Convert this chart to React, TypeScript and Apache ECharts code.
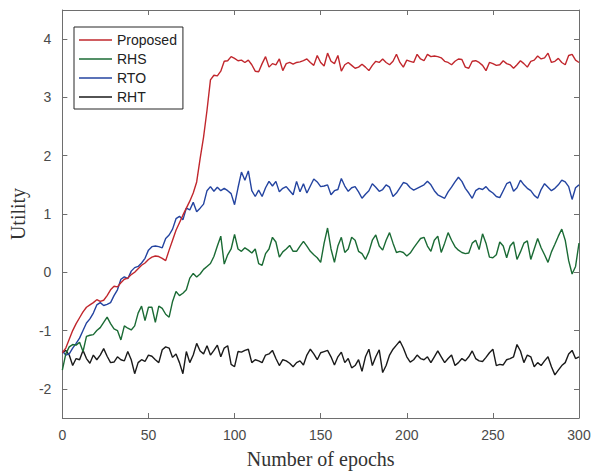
import React, { useEffect, useRef } from "react";
import * as echarts from "echarts";

const epochs: number[] = Array.from({ length: 151 }, (_, i) => i * 2);

const proposed: number[] = [
  -1.38, -1.30, -1.15, -1.00, -0.88, -0.78, -0.68, -0.60, -0.56, -0.52,
  -0.47, -0.50, -0.48, -0.40, -0.30, -0.24, -0.25, -0.18, -0.12, -0.10,
  -0.04, 0.00, 0.06, 0.12, 0.16, 0.22, 0.26, 0.28, 0.27, 0.24,
  0.20, 0.38, 0.55, 0.72, 0.85, 0.98, 1.10, 1.22, 1.36, 1.55,
  1.95, 2.32, 2.78, 3.30, 3.38, 3.37, 3.45, 3.62, 3.63, 3.70,
  3.67, 3.63, 3.64, 3.60, 3.64, 3.56, 3.45, 3.44, 3.58, 3.70,
  3.52, 3.58, 3.56, 3.66, 3.46, 3.58, 3.60, 3.57, 3.60, 3.61,
  3.63, 3.66, 3.60, 3.55, 3.72, 3.60, 3.54, 3.76, 3.62, 3.58,
  3.72, 3.45, 3.56, 3.60, 3.55, 3.50, 3.52, 3.57, 3.52, 3.46,
  3.55, 3.62, 3.60, 3.66, 3.60, 3.56, 3.62, 3.74, 3.60, 3.52,
  3.64, 3.62, 3.60, 3.74, 3.66, 3.63, 3.74, 3.70, 3.71, 3.70,
  3.68, 3.62, 3.60, 3.56, 3.62, 3.66, 3.65, 3.52, 3.50, 3.62,
  3.63, 3.60, 3.55, 3.46, 3.60, 3.58, 3.55, 3.56, 3.63, 3.58,
  3.56, 3.50, 3.56, 3.63, 3.58, 3.52, 3.62, 3.64, 3.71, 3.66,
  3.68, 3.76, 3.60, 3.62, 3.67, 3.60, 3.56, 3.72, 3.74, 3.64,
  3.60,
];

const rhs: number[] = [
  -1.68, -1.40, -1.28, -1.24, -1.25, -1.20, -1.36, -1.10, -1.08, -1.07,
  -1.00, -0.95, -0.86, -0.77, -0.88, -0.97, -1.00, -1.16, -0.92, -0.96,
  -0.99, -0.92, -0.70, -0.58, -0.83, -0.60, -0.60, -0.86, -0.58, -0.62,
  -0.72, -0.77, -0.50, -0.33, -0.40, -0.36, -0.30, -0.10, -0.02, -0.08,
  -0.03, 0.05, 0.10, 0.15, 0.27, 0.45, 0.62, 0.14, 0.30, 0.40,
  0.65, 0.40, 0.36, 0.42, 0.38, 0.33, 0.40, 0.15, 0.12, 0.32,
  0.40, 0.60, 0.52, 0.26, 0.35, 0.40, 0.46, 0.36, 0.36, 0.45,
  0.53, 0.45, 0.36, 0.30, 0.25, 0.17, 0.50, 0.76, 0.40, 0.17,
  0.45, 0.60, 0.34, 0.40, 0.60, 0.55, 0.36, 0.32, 0.22, 0.35,
  0.55, 0.64, 0.45, 0.38, 0.55, 0.68, 0.50, 0.34, 0.36, 0.34,
  0.28, 0.33, 0.42, 0.50, 0.58, 0.60, 0.45, 0.36, 0.55, 0.62,
  0.34, 0.50, 0.68, 0.55, 0.44, 0.38, 0.34, 0.32, 0.33, 0.50,
  0.55, 0.39, 0.66, 0.50, 0.26, 0.25, 0.30, 0.52, 0.45, 0.25,
  0.45, 0.52, 0.22, 0.35, 0.50, 0.54, 0.22, 0.40, 0.58, 0.42,
  0.30, 0.17, 0.35, 0.48, 0.62, 0.74, 0.55, 0.20, -0.03, 0.10,
  0.50,
];

const rto: number[] = [
  -1.35, -1.42, -1.40, -1.30, -1.22, -1.13, -1.00, -0.87, -0.80, -0.70,
  -0.56, -0.52, -0.57, -0.55, -0.52, -0.40, -0.30, -0.12, -0.08, -0.11,
  0.02, 0.08, 0.10, 0.16, 0.24, 0.38, 0.44, 0.45, 0.44, 0.42,
  0.58, 0.64, 0.74, 0.92, 0.96, 0.90, 1.10, 1.07, 1.20, 1.04,
  1.10, 1.17, 1.40, 1.47, 1.39, 1.46, 1.40, 1.44, 1.40, 1.35,
  1.16, 1.45, 1.72, 1.58, 1.74, 1.40, 1.30, 1.41, 1.30, 1.45,
  1.56, 1.48, 1.56, 1.38, 1.44, 1.47, 1.40, 1.33, 1.56, 1.38,
  1.52, 1.36, 1.48, 1.60, 1.55, 1.47, 1.48, 1.50, 1.33, 1.40,
  1.42, 1.61, 1.48, 1.39, 1.45, 1.47, 1.38, 1.27, 1.34, 1.40,
  1.52, 1.46, 1.39, 1.42, 1.50, 1.46, 1.30, 1.36, 1.45, 1.54,
  1.52, 1.45, 1.41, 1.44, 1.47, 1.50, 1.56, 1.50, 1.40, 1.33,
  1.30, 1.27, 1.38, 1.46, 1.55, 1.63, 1.56, 1.44, 1.36, 1.27,
  1.40, 1.44, 1.42, 1.47, 1.40, 1.36, 1.30, 1.28, 1.40, 1.52,
  1.55, 1.39, 1.45, 1.58, 1.50, 1.44, 1.40, 1.32, 1.27, 1.42,
  1.52, 1.46, 1.40, 1.44, 1.50, 1.58, 1.55, 1.47, 1.25, 1.45,
  1.50,
];

const rht: number[] = [
  -1.38, -1.34, -1.42, -1.60, -1.48, -1.50, -1.34, -1.48, -1.56, -1.42,
  -1.50, -1.42, -1.31, -1.44, -1.55, -1.54, -1.45, -1.50, -1.52, -1.36,
  -1.50, -1.74, -1.55, -1.50, -1.53, -1.42, -1.44, -1.50, -1.55, -1.33,
  -1.28, -1.30, -1.46, -1.40, -1.55, -1.74, -1.36, -1.55, -1.42, -1.22,
  -1.35, -1.40, -1.26, -1.42, -1.34, -1.25, -1.45, -1.30, -1.26, -1.58,
  -1.62, -1.36, -1.37, -1.34, -1.32, -1.55, -1.50, -1.52, -1.55, -1.42,
  -1.40, -1.34, -1.48, -1.60, -1.50, -1.52, -1.56, -1.62, -1.55, -1.52,
  -1.59, -1.42, -1.32, -1.40, -1.50, -1.38, -1.36, -1.34, -1.45, -1.59,
  -1.45, -1.37, -1.55, -1.48, -1.64, -1.60, -1.50, -1.70, -1.45, -1.32,
  -1.60, -1.45, -1.33, -1.72, -1.60, -1.42, -1.32, -1.25, -1.18, -1.30,
  -1.45, -1.54, -1.50, -1.42, -1.48, -1.50, -1.45, -1.55, -1.45, -1.35,
  -1.45, -1.55, -1.48, -1.42, -1.60, -1.55, -1.48, -1.52, -1.45, -1.35,
  -1.48, -1.52, -1.53, -1.46, -1.38, -1.32, -1.60, -1.58, -1.59, -1.50,
  -1.48, -1.45, -1.24, -1.35, -1.55, -1.42, -1.45, -1.62, -1.55, -1.60,
  -1.52, -1.45, -1.62, -1.76, -1.68, -1.60, -1.55, -1.40, -1.34, -1.48,
  -1.45,
];

const seriesNames = ["Proposed", "RHS", "RTO", "RHT"];
const seriesColors = ["#C1272D", "#1B6B35", "#2444A0", "#1A1A1A"];
const seriesValues = [proposed, rhs, rto, rht];

const xTicks = { min: 0, max: 300, interval: 50 };
const yTicks = { min: -2.5, max: 4.5, interval: 1 };
const yLabelVals = [-2, -1, 0, 1, 2, 3, 4];

const AXIS_COLOR = "#6e6e6e";
const LABEL_COLOR = "#4a4a4a";

export default function App() {
  const ref = useRef<HTMLDivElement>(null);
  useEffect(() => {
    if (!ref.current) return;
    const chart = echarts.init(ref.current, undefined, { renderer: "svg" });
    const axisLine = { show: true, onZero: false, lineStyle: { color: AXIS_COLOR, width: 1 } };
    const xTick = { show: true, inside: true, length: 5, lineStyle: { color: AXIS_COLOR } };
    const yTick = { ...xTick, customValues: yLabelVals };
    chart.setOption({
      animation: false,
      backgroundColor: "#ffffff",
      grid: { left: 58, top: 10, right: 15, bottom: 52, containLabel: false },
      legend: {
        orient: "vertical",
        left: 74,
        top: 27,
        data: seriesNames,
        icon: "path://M0,0 H32 V1.6 H0 Z",
        backgroundColor: "#ffffff",
        borderColor: "#262626",
        borderWidth: 1,
        borderRadius: 0,
        padding: [6, 6, 5, 5],
        itemWidth: 33,
        itemHeight: 14,
        itemGap: 5,
        textStyle: { fontFamily: "Liberation Sans", fontSize: 14, color: "#222222" },
      },
      xAxis: [
        {
          type: "value",
          position: "bottom",
          min: xTicks.min,
          max: xTicks.max,
          interval: xTicks.interval,
          axisLine,
          axisTick: xTick,
          splitLine: { show: false },
          axisLabel: { color: LABEL_COLOR, fontFamily: "Liberation Sans", fontSize: 14, margin: 10 },
          name: "Number of epochs",
          nameLocation: "middle",
          nameGap: 31,
          nameTextStyle: { fontFamily: "Liberation Serif", fontSize: 20, color: "#333333" },
        },
        {
          type: "value",
          position: "top",
          min: xTicks.min,
          max: xTicks.max,
          interval: xTicks.interval,
          axisLine,
          axisTick: xTick,
          splitLine: { show: false },
          axisLabel: { show: false },
        },
      ],
      yAxis: [
        {
          type: "value",
          position: "left",
          min: yTicks.min,
          max: yTicks.max,
          interval: yTicks.interval,
          axisLine,
          axisTick: yTick,
          splitLine: { show: false },
          axisLabel: {
            color: LABEL_COLOR,
            fontFamily: "Liberation Sans",
            fontSize: 14,
            margin: 11,
            customValues: yLabelVals,
          },
          name: "Utility",
          nameLocation: "middle",
          nameGap: 28,
          nameTextStyle: { fontFamily: "Liberation Serif", fontSize: 20, color: "#333333" },
        },
        {
          type: "value",
          position: "right",
          min: yTicks.min,
          max: yTicks.max,
          interval: yTicks.interval,
          axisLine,
          axisTick: yTick,
          splitLine: { show: false },
          axisLabel: { show: false },
        },
      ],
      series: seriesNames.map((name, k) => ({
        name,
        type: "line",
        xAxisIndex: 0,
        yAxisIndex: 0,
        symbol: "none",
        showSymbol: false,
        smooth: false,
        color: seriesColors[k],
        itemStyle: { color: seriesColors[k] },
        lineStyle: { color: seriesColors[k], width: 1.4 },
        data: epochs.map((e, i) => [e, seriesValues[k][i]]),
        z: 10 - k,
      })),
    });
    return () => chart.dispose();
  }, []);
  return (
    <div
      ref={ref}
      style={{ position: "fixed", left: 0, top: 0, width: 594, height: 474 }}
    />
  );
}
